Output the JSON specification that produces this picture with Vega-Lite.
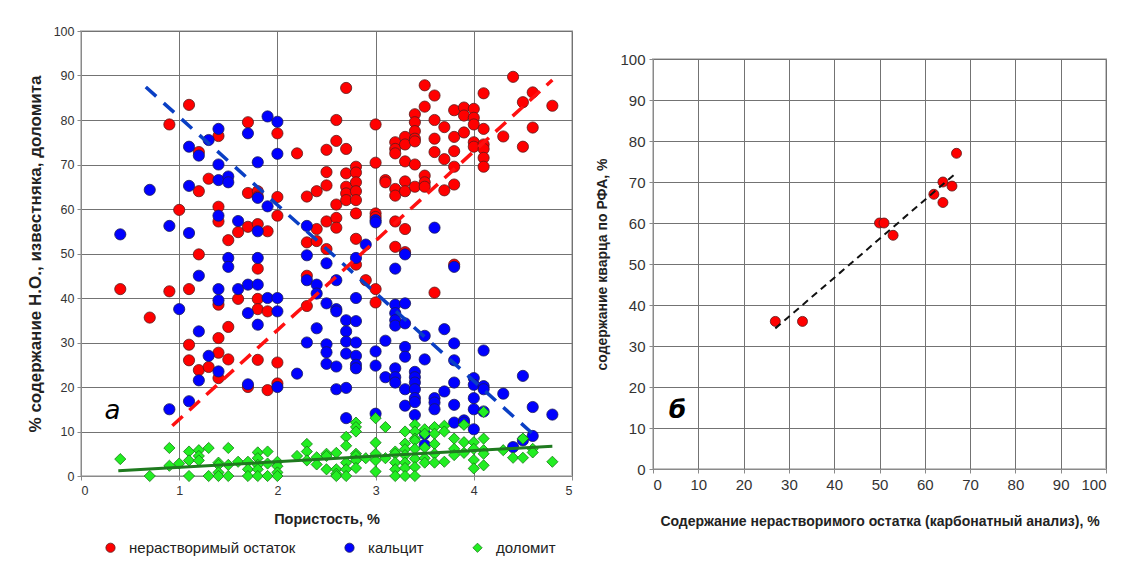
{
  "$schema": "https://vega.github.io/schema/vega-lite/v6.json",
  "background": "white",
  "padding": {"left": 25, "top": 24, "right": 10, "bottom": 5},
  "spacing": 20,
  "config": {
    "font": "Liberation Sans",
    "view": {"stroke": "#c4c4c4", "strokeWidth": 2},
    "axis": {"gridColor": "#737373", "gridWidth": 1, "gridOpacity": 1, "domainColor": "#8a8a8a", "domainWidth": 1, "tickColor": "#8a8a8a", "tickSize": 4, "labelColor": "#333333", "titleColor": "#222222", "titleFontWeight": "bold", "labelFont": "Liberation Sans", "titleFont": "Liberation Sans"}
  },
  "datasets": {
    "pts": [
      {"s":"нерастворимый остаток","p":0.4,"v":42},{"s":"нерастворимый остаток","p":0.7,"v":35.6},{"s":"нерастворимый остаток","p":0.9,"v":79},{"s":"нерастворимый остаток","p":0.9,"v":41.5},{"s":"нерастворимый остаток","p":1.0,"v":59.8},{"s":"нерастворимый остаток","p":1.1,"v":83.4},{"s":"нерастворимый остаток","p":1.1,"v":42},{"s":"нерастворимый остаток","p":1.1,"v":29.5},{"s":"нерастворимый остаток","p":1.1,"v":26},{"s":"нерастворимый остаток","p":1.2,"v":72.8},{"s":"нерастворимый остаток","p":1.2,"v":64},{"s":"нерастворимый остаток","p":1.2,"v":49.8},{"s":"нерастворимый остаток","p":1.2,"v":23.8},{"s":"нерастворимый остаток","p":1.3,"v":66.8},{"s":"нерастворимый остаток","p":1.3,"v":24.5},{"s":"нерастворимый остаток","p":1.4,"v":76.4},{"s":"нерастворимый остаток","p":1.4,"v":60.5},{"s":"нерастворимый остаток","p":1.4,"v":57.2},{"s":"нерастворимый остаток","p":1.4,"v":38.5},{"s":"нерастворимый остаток","p":1.4,"v":31},{"s":"нерастворимый остаток","p":1.4,"v":27.7},{"s":"нерастворимый остаток","p":1.4,"v":22},{"s":"нерастворимый остаток","p":1.5,"v":53},{"s":"нерастворимый остаток","p":1.5,"v":33.5},{"s":"нерастворимый остаток","p":1.5,"v":26.2},{"s":"нерастворимый остаток","p":1.6,"v":54.8},{"s":"нерастворимый остаток","p":1.6,"v":39.8},{"s":"нерастворимый остаток","p":1.7,"v":79.5},{"s":"нерастворимый остаток","p":1.7,"v":63.6},{"s":"нерастворимый остаток","p":1.7,"v":56},{"s":"нерастворимый остаток","p":1.7,"v":20},{"s":"нерастворимый остаток","p":1.8,"v":64},{"s":"нерастворимый остаток","p":1.8,"v":62.8},{"s":"нерастворимый остаток","p":1.8,"v":56.6},{"s":"нерастворимый остаток","p":1.8,"v":46.6},{"s":"нерастворимый остаток","p":1.8,"v":39.8},{"s":"нерастворимый остаток","p":1.8,"v":37.5},{"s":"нерастворимый остаток","p":1.8,"v":26.1},{"s":"нерастворимый остаток","p":1.9,"v":55},{"s":"нерастворимый остаток","p":1.9,"v":37},{"s":"нерастворимый остаток","p":1.9,"v":19.3},{"s":"нерастворимый остаток","p":2.0,"v":77},{"s":"нерастворимый остаток","p":2.0,"v":62.7},{"s":"нерастворимый остаток","p":2.0,"v":58.5},{"s":"нерастворимый остаток","p":2.0,"v":25.5},{"s":"нерастворимый остаток","p":2.0,"v":20.8},{"s":"нерастворимый остаток","p":2.2,"v":72.5},{"s":"нерастворимый остаток","p":2.3,"v":62.8},{"s":"нерастворимый остаток","p":2.3,"v":52.5},{"s":"нерастворимый остаток","p":2.3,"v":45},{"s":"нерастворимый остаток","p":2.3,"v":38.2},{"s":"нерастворимый остаток","p":2.4,"v":64},{"s":"нерастворимый остаток","p":2.4,"v":55.5},{"s":"нерастворимый остаток","p":2.4,"v":52.8},{"s":"нерастворимый остаток","p":2.5,"v":73.3},{"s":"нерастворимый остаток","p":2.5,"v":68.3},{"s":"нерастворимый остаток","p":2.5,"v":65.3},{"s":"нерастворимый остаток","p":2.5,"v":57.2},{"s":"нерастворимый остаток","p":2.5,"v":51},{"s":"нерастворимый остаток","p":2.6,"v":80},{"s":"нерастворимый остаток","p":2.6,"v":75.3},{"s":"нерастворимый остаток","p":2.6,"v":61},{"s":"нерастворимый остаток","p":2.6,"v":58},{"s":"нерастворимый остаток","p":2.6,"v":55.8},{"s":"нерастворимый остаток","p":2.7,"v":87.2},{"s":"нерастворимый остаток","p":2.7,"v":73.5},{"s":"нерастворимый остаток","p":2.7,"v":68},{"s":"нерастворимый остаток","p":2.7,"v":65},{"s":"нерастворимый остаток","p":2.7,"v":63.5},{"s":"нерастворимый остаток","p":2.7,"v":62},{"s":"нерастворимый остаток","p":2.8,"v":69.5},{"s":"нерастворимый остаток","p":2.8,"v":68.2},{"s":"нерастворимый остаток","p":2.8,"v":66},{"s":"нерастворимый остаток","p":2.8,"v":64},{"s":"нерастворимый остаток","p":2.8,"v":62},{"s":"нерастворимый остаток","p":2.8,"v":59},{"s":"нерастворимый остаток","p":2.8,"v":53.3},{"s":"нерастворимый остаток","p":2.8,"v":47.5},{"s":"нерастворимый остаток","p":2.9,"v":44},{"s":"нерастворимый остаток","p":3.0,"v":79},{"s":"нерастворимый остаток","p":3.0,"v":70.4},{"s":"нерастворимый остаток","p":3.0,"v":59},{"s":"нерастворимый остаток","p":3.0,"v":58.2},{"s":"нерастворимый остаток","p":3.0,"v":42},{"s":"нерастворимый остаток","p":3.0,"v":39},{"s":"нерастворимый остаток","p":3.1,"v":66.5},{"s":"нерастворимый остаток","p":3.1,"v":66},{"s":"нерастворимый остаток","p":3.2,"v":75},{"s":"нерастворимый остаток","p":3.2,"v":73.5},{"s":"нерастворимый остаток","p":3.2,"v":72.5},{"s":"нерастворимый остаток","p":3.2,"v":64.5},{"s":"нерастворимый остаток","p":3.2,"v":63},{"s":"нерастворимый остаток","p":3.2,"v":57.2},{"s":"нерастворимый остаток","p":3.2,"v":51.5},{"s":"нерастворимый остаток","p":3.3,"v":76.2},{"s":"нерастворимый остаток","p":3.3,"v":74.5},{"s":"нерастворимый остаток","p":3.3,"v":70.7},{"s":"нерастворимый остаток","p":3.3,"v":66.2},{"s":"нерастворимый остаток","p":3.3,"v":64},{"s":"нерастворимый остаток","p":3.3,"v":55.5},{"s":"нерастворимый остаток","p":3.3,"v":50.3},{"s":"нерастворимый остаток","p":3.4,"v":81.3},{"s":"нерастворимый остаток","p":3.4,"v":79.5},{"s":"нерастворимый остаток","p":3.4,"v":77.5},{"s":"нерастворимый остаток","p":3.4,"v":75.8},{"s":"нерастворимый остаток","p":3.4,"v":75.2},{"s":"нерастворимый остаток","p":3.4,"v":70},{"s":"нерастворимый остаток","p":3.4,"v":65},{"s":"нерастворимый остаток","p":3.5,"v":87.8},{"s":"нерастворимый остаток","p":3.5,"v":83},{"s":"нерастворимый остаток","p":3.5,"v":67.5},{"s":"нерастворимый остаток","p":3.5,"v":66},{"s":"нерастворимый остаток","p":3.5,"v":65},{"s":"нерастворимый остаток","p":3.6,"v":85.5},{"s":"нерастворимый остаток","p":3.6,"v":80},{"s":"нерастворимый остаток","p":3.6,"v":75.8},{"s":"нерастворимый остаток","p":3.6,"v":72.8},{"s":"нерастворимый остаток","p":3.6,"v":41.2},{"s":"нерастворимый остаток","p":3.7,"v":78.4},{"s":"нерастворимый остаток","p":3.7,"v":71.2},{"s":"нерастворимый остаток","p":3.7,"v":64.2},{"s":"нерастворимый остаток","p":3.8,"v":82.2},{"s":"нерастворимый остаток","p":3.8,"v":76.2},{"s":"нерастворимый остаток","p":3.8,"v":73},{"s":"нерастворимый остаток","p":3.8,"v":69.5},{"s":"нерастворимый остаток","p":3.8,"v":65.5},{"s":"нерастворимый остаток","p":3.8,"v":47.5},{"s":"нерастворимый остаток","p":3.9,"v":82.8},{"s":"нерастворимый остаток","p":3.9,"v":81},{"s":"нерастворимый остаток","p":3.9,"v":77.2},{"s":"нерастворимый остаток","p":4.0,"v":82.5},{"s":"нерастворимый остаток","p":4.0,"v":80.5},{"s":"нерастворимый остаток","p":4.0,"v":79},{"s":"нерастворимый остаток","p":4.0,"v":75},{"s":"нерастворимый остаток","p":4.0,"v":74},{"s":"нерастворимый остаток","p":4.1,"v":86},{"s":"нерастворимый остаток","p":4.1,"v":78},{"s":"нерастворимый остаток","p":4.1,"v":74.5},{"s":"нерастворимый остаток","p":4.1,"v":73.5},{"s":"нерастворимый остаток","p":4.1,"v":71.5},{"s":"нерастворимый остаток","p":4.1,"v":69.5},{"s":"нерастворимый остаток","p":4.3,"v":76.3},{"s":"нерастворимый остаток","p":4.4,"v":89.7},{"s":"нерастворимый остаток","p":4.5,"v":84},{"s":"нерастворимый остаток","p":4.5,"v":74},{"s":"нерастворимый остаток","p":4.6,"v":86.2},{"s":"нерастворимый остаток","p":4.6,"v":78.3},{"s":"нерастворимый остаток","p":4.8,"v":83.2},
      {"s":"кальцит","p":0.4,"v":54.3},{"s":"кальцит","p":0.7,"v":64.3},{"s":"кальцит","p":0.9,"v":56.2},{"s":"кальцит","p":0.9,"v":15},{"s":"кальцит","p":1.0,"v":37.5},{"s":"кальцит","p":1.1,"v":74},{"s":"кальцит","p":1.1,"v":65.2},{"s":"кальцит","p":1.1,"v":54.6},{"s":"кальцит","p":1.1,"v":16.8},{"s":"кальцит","p":1.2,"v":72},{"s":"кальцит","p":1.2,"v":45},{"s":"кальцит","p":1.2,"v":32.5},{"s":"кальцит","p":1.2,"v":21.5},{"s":"кальцит","p":1.3,"v":75.5},{"s":"кальцит","p":1.3,"v":27},{"s":"кальцит","p":1.4,"v":78},{"s":"кальцит","p":1.4,"v":70},{"s":"кальцит","p":1.4,"v":66.5},{"s":"кальцит","p":1.4,"v":58.5},{"s":"кальцит","p":1.4,"v":42},{"s":"кальцит","p":1.4,"v":39.5},{"s":"кальцит","p":1.4,"v":23.5},{"s":"кальцит","p":1.5,"v":67.3},{"s":"кальцит","p":1.5,"v":66},{"s":"кальцит","p":1.5,"v":49},{"s":"кальцит","p":1.5,"v":47},{"s":"кальцит","p":1.6,"v":57.3},{"s":"кальцит","p":1.6,"v":42},{"s":"кальцит","p":1.7,"v":77},{"s":"кальцит","p":1.7,"v":43},{"s":"кальцит","p":1.7,"v":36.6},{"s":"кальцит","p":1.7,"v":20.6},{"s":"кальцит","p":1.8,"v":70.5},{"s":"кальцит","p":1.8,"v":62.5},{"s":"кальцит","p":1.8,"v":55},{"s":"кальцит","p":1.8,"v":49},{"s":"кальцит","p":1.8,"v":43},{"s":"кальцит","p":1.8,"v":34},{"s":"кальцит","p":1.9,"v":80.8},{"s":"кальцит","p":1.9,"v":60.6},{"s":"кальцит","p":1.9,"v":40},{"s":"кальцит","p":2.0,"v":79.6},{"s":"кальцит","p":2.0,"v":72.4},{"s":"кальцит","p":2.0,"v":40},{"s":"кальцит","p":2.0,"v":37},{"s":"кальцит","p":2.0,"v":20},{"s":"кальцит","p":2.2,"v":23},{"s":"кальцит","p":2.3,"v":56.2},{"s":"кальцит","p":2.3,"v":49.6},{"s":"кальцит","p":2.3,"v":44},{"s":"кальцит","p":2.3,"v":30},{"s":"кальцит","p":2.4,"v":43},{"s":"кальцит","p":2.4,"v":41},{"s":"кальцит","p":2.4,"v":33.2},{"s":"кальцит","p":2.5,"v":47.8},{"s":"кальцит","p":2.5,"v":38.8},{"s":"кальцит","p":2.5,"v":29.6},{"s":"кальцит","p":2.5,"v":27.8},{"s":"кальцит","p":2.5,"v":25.2},{"s":"кальцит","p":2.6,"v":44},{"s":"кальцит","p":2.6,"v":37.5},{"s":"кальцит","p":2.6,"v":37},{"s":"кальцит","p":2.6,"v":24.6},{"s":"кальцит","p":2.6,"v":19.5},{"s":"кальцит","p":2.7,"v":35},{"s":"кальцит","p":2.7,"v":32.5},{"s":"кальцит","p":2.7,"v":30.2},{"s":"кальцит","p":2.7,"v":27.5},{"s":"кальцит","p":2.7,"v":19.8},{"s":"кальцит","p":2.7,"v":13},{"s":"кальцит","p":2.8,"v":49},{"s":"кальцит","p":2.8,"v":40},{"s":"кальцит","p":2.8,"v":34.8},{"s":"кальцит","p":2.8,"v":30},{"s":"кальцит","p":2.8,"v":27},{"s":"кальцит","p":2.8,"v":25},{"s":"кальцит","p":2.8,"v":24.2},{"s":"кальцит","p":2.9,"v":52},{"s":"кальцит","p":3.0,"v":57.5},{"s":"кальцит","p":3.0,"v":57},{"s":"кальцит","p":3.0,"v":28},{"s":"кальцит","p":3.0,"v":24.8},{"s":"кальцит","p":3.0,"v":14},{"s":"кальцит","p":3.1,"v":30.4},{"s":"кальцит","p":3.1,"v":22.2},{"s":"кальцит","p":3.2,"v":46.6},{"s":"кальцит","p":3.2,"v":38.5},{"s":"кальцит","p":3.2,"v":36.6},{"s":"кальцит","p":3.2,"v":35},{"s":"кальцит","p":3.2,"v":33.8},{"s":"кальцит","p":3.2,"v":24.2},{"s":"кальцит","p":3.2,"v":22.2},{"s":"кальцит","p":3.2,"v":21},{"s":"кальцит","p":3.3,"v":49.8},{"s":"кальцит","p":3.3,"v":38.8},{"s":"кальцит","p":3.3,"v":34.3},{"s":"кальцит","p":3.3,"v":29},{"s":"кальцит","p":3.3,"v":26.8},{"s":"кальцит","p":3.3,"v":19.5},{"s":"кальцит","p":3.3,"v":15.8},{"s":"кальцит","p":3.4,"v":23.4},{"s":"кальцит","p":3.4,"v":22.2},{"s":"кальцит","p":3.4,"v":21},{"s":"кальцит","p":3.4,"v":19.5},{"s":"кальцит","p":3.4,"v":17.5},{"s":"кальцит","p":3.4,"v":16.6},{"s":"кальцит","p":3.4,"v":13.7},{"s":"кальцит","p":3.5,"v":31.5},{"s":"кальцит","p":3.5,"v":26.2},{"s":"кальцит","p":3.5,"v":9.5},{"s":"кальцит","p":3.5,"v":7},{"s":"кальцит","p":3.6,"v":55.8},{"s":"кальцит","p":3.6,"v":17.5},{"s":"кальцит","p":3.6,"v":16.5},{"s":"кальцит","p":3.6,"v":15},{"s":"кальцит","p":3.7,"v":33},{"s":"кальцит","p":3.7,"v":19},{"s":"кальцит","p":3.8,"v":47},{"s":"кальцит","p":3.8,"v":29.8},{"s":"кальцит","p":3.8,"v":26},{"s":"кальцит","p":3.8,"v":21},{"s":"кальцит","p":3.8,"v":16},{"s":"кальцит","p":3.8,"v":12},{"s":"кальцит","p":3.9,"v":12.5},{"s":"кальцит","p":3.9,"v":12},{"s":"кальцит","p":4.0,"v":22},{"s":"кальцит","p":4.0,"v":20.5},{"s":"кальцит","p":4.0,"v":17.5},{"s":"кальцит","p":4.0,"v":15},{"s":"кальцит","p":4.0,"v":10.5},{"s":"кальцит","p":4.1,"v":28.2},{"s":"кальцит","p":4.1,"v":20.2},{"s":"кальцит","p":4.1,"v":19.5},{"s":"кальцит","p":4.1,"v":14.5},{"s":"кальцит","p":4.3,"v":18.5},{"s":"кальцит","p":4.4,"v":6.5},{"s":"кальцит","p":4.5,"v":22.5},{"s":"кальцит","p":4.5,"v":8},{"s":"кальцит","p":4.6,"v":15.5},{"s":"кальцит","p":4.6,"v":9},{"s":"кальцит","p":4.8,"v":13.8},
      {"s":"доломит","p":0.4,"v":3.8},{"s":"доломит","p":0.7,"v":0},{"s":"доломит","p":0.9,"v":6.3},{"s":"доломит","p":0.9,"v":2.3},{"s":"доломит","p":1.0,"v":2.8},{"s":"доломит","p":1.1,"v":5.5},{"s":"доломит","p":1.1,"v":3.5},{"s":"доломит","p":1.1,"v":0},{"s":"доломит","p":1.2,"v":5.8},{"s":"доломит","p":1.2,"v":4.5},{"s":"доломит","p":1.2,"v":3.5},{"s":"доломит","p":1.3,"v":6.3},{"s":"доломит","p":1.3,"v":0},{"s":"доломит","p":1.4,"v":3},{"s":"доломит","p":1.4,"v":2.5},{"s":"доломит","p":1.4,"v":0.8},{"s":"доломит","p":1.4,"v":0},{"s":"доломит","p":1.5,"v":6.3},{"s":"доломит","p":1.5,"v":2.5},{"s":"доломит","p":1.5,"v":0},{"s":"доломит","p":1.6,"v":3.2},{"s":"доломит","p":1.7,"v":3.2},{"s":"доломит","p":1.7,"v":1.5},{"s":"доломит","p":1.7,"v":0},{"s":"доломит","p":1.8,"v":5.3},{"s":"доломит","p":1.8,"v":4},{"s":"доломит","p":1.8,"v":2.5},{"s":"доломит","p":1.8,"v":1.5},{"s":"доломит","p":1.8,"v":0},{"s":"доломит","p":1.9,"v":5.5},{"s":"доломит","p":1.9,"v":2.8},{"s":"доломит","p":1.9,"v":0},{"s":"доломит","p":2.0,"v":3.2},{"s":"доломит","p":2.0,"v":2.2},{"s":"доломит","p":2.0,"v":0.8},{"s":"доломит","p":2.0,"v":0},{"s":"доломит","p":2.2,"v":4.5},{"s":"доломит","p":2.3,"v":7.2},{"s":"доломит","p":2.3,"v":5.5},{"s":"доломит","p":2.3,"v":3.5},{"s":"доломит","p":2.4,"v":4.2},{"s":"доломит","p":2.4,"v":2.6},{"s":"доломит","p":2.5,"v":5},{"s":"доломит","p":2.5,"v":4.5},{"s":"доломит","p":2.5,"v":1.5},{"s":"доломит","p":2.6,"v":5.2},{"s":"доломит","p":2.6,"v":1.5},{"s":"доломит","p":2.6,"v":0.5},{"s":"доломит","p":2.6,"v":0},{"s":"доломит","p":2.7,"v":8.8},{"s":"доломит","p":2.7,"v":6.8},{"s":"доломит","p":2.7,"v":3},{"s":"доломит","p":2.7,"v":1.5},{"s":"доломит","p":2.7,"v":0},{"s":"доломит","p":2.8,"v":12},{"s":"доломит","p":2.8,"v":11},{"s":"доломит","p":2.8,"v":10},{"s":"доломит","p":2.8,"v":5},{"s":"доломит","p":2.8,"v":4.5},{"s":"доломит","p":2.8,"v":3.5},{"s":"доломит","p":2.8,"v":1.8},{"s":"доломит","p":2.9,"v":4},{"s":"доломит","p":3.0,"v":13},{"s":"доломит","p":3.0,"v":7.5},{"s":"доломит","p":3.0,"v":5},{"s":"доломит","p":3.0,"v":3.5},{"s":"доломит","p":3.0,"v":1},{"s":"доломит","p":3.1,"v":11},{"s":"доломит","p":3.1,"v":4},{"s":"доломит","p":3.2,"v":5.5},{"s":"доломит","p":3.2,"v":5},{"s":"доломит","p":3.2,"v":3},{"s":"доломит","p":3.2,"v":1.5},{"s":"доломит","p":3.2,"v":0},{"s":"доломит","p":3.3,"v":10},{"s":"доломит","p":3.3,"v":7.3},{"s":"доломит","p":3.3,"v":6},{"s":"доломит","p":3.3,"v":4.7},{"s":"доломит","p":3.3,"v":3},{"s":"доломит","p":3.3,"v":1.8},{"s":"доломит","p":3.3,"v":0},{"s":"доломит","p":3.4,"v":11.5},{"s":"доломит","p":3.4,"v":10},{"s":"доломит","p":3.4,"v":8.4},{"s":"доломит","p":3.4,"v":8},{"s":"доломит","p":3.4,"v":6.1},{"s":"доломит","p":3.4,"v":3.9},{"s":"доломит","p":3.4,"v":2},{"s":"доломит","p":3.4,"v":0},{"s":"доломит","p":3.5,"v":10.5},{"s":"доломит","p":3.5,"v":9.5},{"s":"доломит","p":3.5,"v":6.4},{"s":"доломит","p":3.5,"v":4},{"s":"доломит","p":3.5,"v":3},{"s":"доломит","p":3.6,"v":11},{"s":"доломит","p":3.6,"v":9.5},{"s":"доломит","p":3.6,"v":7.2},{"s":"доломит","p":3.6,"v":5},{"s":"доломит","p":3.6,"v":3},{"s":"доломит","p":3.7,"v":11.3},{"s":"доломит","p":3.7,"v":10},{"s":"доломит","p":3.7,"v":3.2},{"s":"доломит","p":3.8,"v":8.4},{"s":"доломит","p":3.8,"v":6.1},{"s":"доломит","p":3.8,"v":4.7},{"s":"доломит","p":3.9,"v":11.5},{"s":"доломит","p":3.9,"v":7.6},{"s":"доломит","p":3.9,"v":5.2},{"s":"доломит","p":4.0,"v":7.6},{"s":"доломит","p":4.0,"v":6.1},{"s":"доломит","p":4.0,"v":3.6},{"s":"доломит","p":4.0,"v":1.7},{"s":"доломит","p":4.1,"v":14.4},{"s":"доломит","p":4.1,"v":8.4},{"s":"доломит","p":4.1,"v":5.8},{"s":"доломит","p":4.1,"v":5},{"s":"доломит","p":4.1,"v":2.4},{"s":"доломит","p":4.3,"v":5.8},{"s":"доломит","p":4.4,"v":4.1},{"s":"доломит","p":4.5,"v":8.4},{"s":"доломит","p":4.5,"v":4.1},{"s":"доломит","p":4.6,"v":6.1},{"s":"доломит","p":4.6,"v":5.3},{"s":"доломит","p":4.8,"v":3.2}
    ],
    "redTrend": [{"p":0.93,"v":11.3},{"p":4.8,"v":89}],
    "blueTrend": [{"p":0.66,"v":87.4},{"p":4.6,"v":9.5}],
    "greenTrend": [{"p":0.38,"v":1.2},{"p":4.8,"v":6.7}],
    "labelA": [{"p":0.32,"v":14.5,"t":"а"}],
    "quartz": [{"x":27,"y":36},{"x":33,"y":36},{"x":50,"y":60},{"x":51,"y":60},{"x":53,"y":57},{"x":62,"y":67},{"x":64,"y":70},{"x":64,"y":65},{"x":66,"y":69},{"x":67,"y":77}],
    "quartzTrend": [{"x":27,"y":34.3},{"x":66.5,"y":71.8}],
    "labelB": [{"x":5.4,"y":14.5,"t":"б"}],
    "blank": [{"k":1}]
  },
  "hconcat": [
    {
      "width": 491,
      "height": 445,
      "encoding": {
        "x": {"field": "p", "type": "quantitative", "scale": {"domain": [0, 5], "nice": false},
              "axis": {"values": [0,1,2,3,4,5], "title": "Пористость, %", "labelFontSize": 12.5, "titleFontSize": 14.5, "labelPadding": 4, "titlePadding": 16, "grid": true}},
        "y": {"field": "v", "type": "quantitative", "scale": {"domain": [0, 100], "nice": false},
              "axis": {"values": [0,10,20,30,40,50,60,70,80,90,100], "title": "% содержание Н.О., известняка, доломита", "labelFontSize": 12.5, "titleFontSize": 17, "labelPadding": 3, "titlePadding": 9, "grid": true}}
      },
      "layer": [
        {
          "data": {"name": "pts"},
          "mark": {"type": "point", "filled": true, "size": 125, "strokeWidth": 0.8, "opacity": 1},
          "encoding": {
            "fill": {"field": "s", "type": "nominal",
                     "scale": {"domain": ["нерастворимый остаток","кальцит","доломит"], "range": ["#ff0000","#0000ff","#22ee22"]},
                     "legend": {"orient": "none", "legendX": 22, "legendY": 509, "direction": "horizontal", "title": null, "labelFontSize": 15, "labelLimit": 400, "labelColor": "#222222", "symbolSize": 85, "columnPadding": 46, "labelOffset": 11, "symbolStrokeWidth": 0.8}},
            "stroke": {"field": "s", "type": "nominal",
                       "scale": {"domain": ["нерастворимый остаток","кальцит","доломит"], "range": ["#5a1a1a","#1a1a5a","#147a14"]}},
            "shape": {"field": "s", "type": "nominal",
                      "scale": {"domain": ["нерастворимый остаток","кальцит","доломит"], "range": ["circle","circle","diamond"]}}
          }
        },
        {
          "data": {"name": "greenTrend"},
          "mark": {"type": "line", "color": "#1f7a1f", "strokeWidth": 3},
          "encoding": {}
        },
        {
          "data": {"name": "blueTrend"},
          "mark": {"type": "line", "color": "#0a3fc4", "strokeWidth": 3.5, "strokeDash": [14, 10]},
          "encoding": {}
        },
        {
          "data": {"name": "redTrend"},
          "mark": {"type": "line", "color": "#ff1010", "strokeWidth": 3.5, "strokeDash": [14, 9]},
          "encoding": {}
        },
        {
          "data": {"name": "labelA"},
          "mark": {"type": "text", "fontSize": 26, "fontStyle": "italic", "font": "DejaVu Sans", "color": "#000000", "align": "center", "baseline": "middle"},
          "encoding": {"text": {"field": "t"}}
        }
      ]
    },
    {
      "spacing": 16,
      "vconcat": [
        {
          "width": 1,
          "height": 1,
          "view": {"stroke": null},
          "data": {"name": "blank"},
          "mark": {"type": "point", "opacity": 0},
          "encoding": {}
        },
        {
          "width": 453,
          "height": 410,
          "encoding": {
            "x": {"field": "x", "type": "quantitative", "scale": {"domain": [0, 100], "nice": false},
                  "axis": {"values": [0,10,20,30,40,50,60,70,80,90,100], "title": "Содержание нерастворимого остатка (карбонатный анализ), %", "labelFontSize": 15, "titleFontSize": 14, "labelPadding": 4, "titlePadding": 22, "grid": true}},
            "y": {"field": "y", "type": "quantitative", "scale": {"domain": [0, 100], "nice": false},
                  "axis": {"values": [0,10,20,30,40,50,60,70,80,90,100], "title": "содержание кварца по РФА, %", "labelFontSize": 15, "titleFontSize": 14, "labelPadding": 4, "titlePadding": 10, "grid": true}}
          },
          "layer": [
            {
              "data": {"name": "quartz"},
              "mark": {"type": "point", "filled": true, "size": 100, "fill": "#ff0000", "stroke": "#5a1a1a", "strokeWidth": 0.8, "opacity": 1}
            },
            {
              "data": {"name": "quartzTrend"},
              "mark": {"type": "line", "color": "#111111", "strokeWidth": 2, "strokeDash": [7, 5]}
            },
            {
              "data": {"name": "labelB"},
              "mark": {"type": "text", "fontSize": 25, "fontStyle": "italic", "fontWeight": "bold", "font": "DejaVu Sans", "color": "#000000", "align": "center", "baseline": "middle"},
              "encoding": {"text": {"field": "t"}}
            }
          ]
        }
      ]
    }
  ]
}
